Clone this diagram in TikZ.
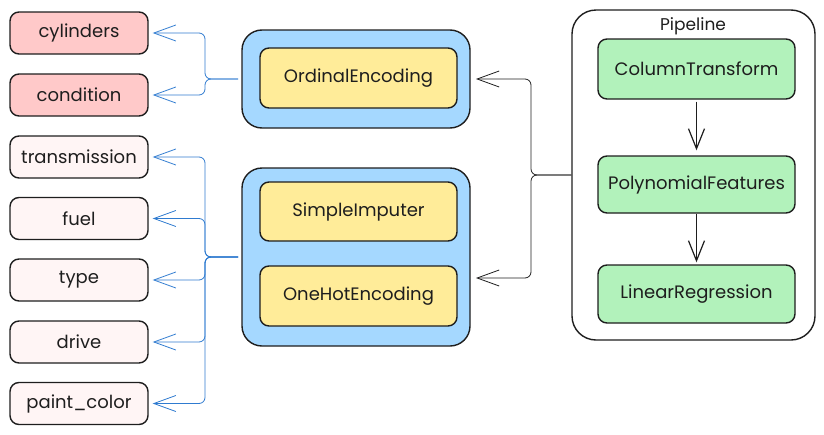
\documentclass[tikz,border=0pt]{standalone}
\usepackage{fontspec}
\setmainfont{Poppins}
\usetikzlibrary{arrows.meta}
\definecolor{ink}{HTML}{1E1E1E}
\definecolor{redf}{HTML}{FFC9C9}
\definecolor{pinkf}{HTML}{FFF5F5}
\definecolor{bluef}{HTML}{A5D8FF}
\definecolor{yellowf}{HTML}{FFEC99}
\definecolor{greenf}{HTML}{B2F2BB}
\definecolor{bluel}{HTML}{2F7BD0}
\tikzset{
  box/.style={draw=ink, line width=1.4pt, rounded corners=9pt, minimum width=138pt, minimum height=42pt, inner sep=0pt, font=\fontsize{18}{21}\selectfont, text=ink},
  redbox/.style={box, fill=redf},
  pinkbox/.style={box, fill=pinkf},
  grp/.style={draw=ink, line width=1.4pt, rounded corners=20pt, fill=bluef, minimum width=228pt, inner sep=0pt},
  ybox/.style={box, fill=yellowf, minimum width=197pt, minimum height=60pt},
  gbox/.style={box, fill=greenf, minimum width=197pt, minimum height=58pt},
  barb/.style={-{Straight Barb[length=22pt,width=16pt]}},
  bconn/.style={draw=bluel, line width=0.8pt, rounded corners=6pt, barb},
  kconn/.style={draw=ink, line width=0.8pt, rounded corners=6pt, barb},
}
\begin{document}
\begin{tikzpicture}[x=1pt,y=-1pt]
\useasboundingbox (0,0) rectangle (824,434);
% left column boxes
\node[redbox] (cyl) at (79,33) {cylinders};
\node[redbox] (cond) at (79,95) {condition};
\node[pinkbox] (trans) at (79,157) {transmission};
\node[pinkbox] (fuel) at (79,218.5) {fuel};
\node[pinkbox] (type) at (79,280) {type};
\node[pinkbox] (drive) at (79,342) {drive};
\node[pinkbox] (paint) at (79,403.5) {paint\_color};
% middle groups
\node[grp, minimum height=98pt] (g1) at (356,79) {};
\node[grp, minimum height=178pt] (g2) at (356,257) {};
\node[ybox] (ord) at (358.5,78) {OrdinalEncoding};
\node[ybox, minimum height=59pt] (imp) at (358.5,211.5) {SimpleImputer};
\node[ybox] (ohe) at (358.5,296) {OneHotEncoding};
% pipeline
\node[draw=ink, line width=1.4pt, rounded corners=24pt, minimum width=243pt, minimum height=330pt, inner sep=0pt] (pipe) at (693.5,175) {};
\node[font=\fontsize{17}{20}\selectfont, text=ink, inner sep=0pt] (plabel) at (693,26) {Pipeline};
\node[gbox, minimum height=60pt] (ct) at (696.5,69) {ColumnTransform};
\node[gbox, minimum height=57pt] (pf) at (696.5,184.5) {PolynomialFeatures};
\node[gbox] (lr) at (696.5,294) {LinearRegression};
\draw[draw=ink, line width=1.2pt, -{Straight Barb[length=20pt,width=16pt]}, shorten <=2pt, shorten >=5pt] (ct.south) -- (pf.north);
\draw[draw=ink, line width=1.2pt, -{Straight Barb[length=20pt,width=16pt]}, shorten >=2pt] (pf.south) -- (lr.north);
% black connector from pipeline
\coordinate (kt1) at (476,79);
\coordinate (kt2) at (476,278);
\draw[kconn] (pipe.west) -- (531,175) -- (531,79) -- (kt1);
\draw[kconn] (pipe.west) -- (531,175) -- (531,278) -- (kt2);
% blue connectors
\coordinate (b1) at (238,79);
\coordinate (b2) at (238,257);
\foreach \t in {cyl,cond}{
  \draw[bconn] (b1) -- (205,79) -- (205,0 |- \t.east) -- ([xshift=4pt]\t.east);
}
\foreach \t in {trans,fuel,type,drive,paint}{
  \draw[bconn] (b2) -- (205,257) -- (205,0 |- \t.east) -- ([xshift=4pt]\t.east);
}
\end{tikzpicture}
\end{document}
